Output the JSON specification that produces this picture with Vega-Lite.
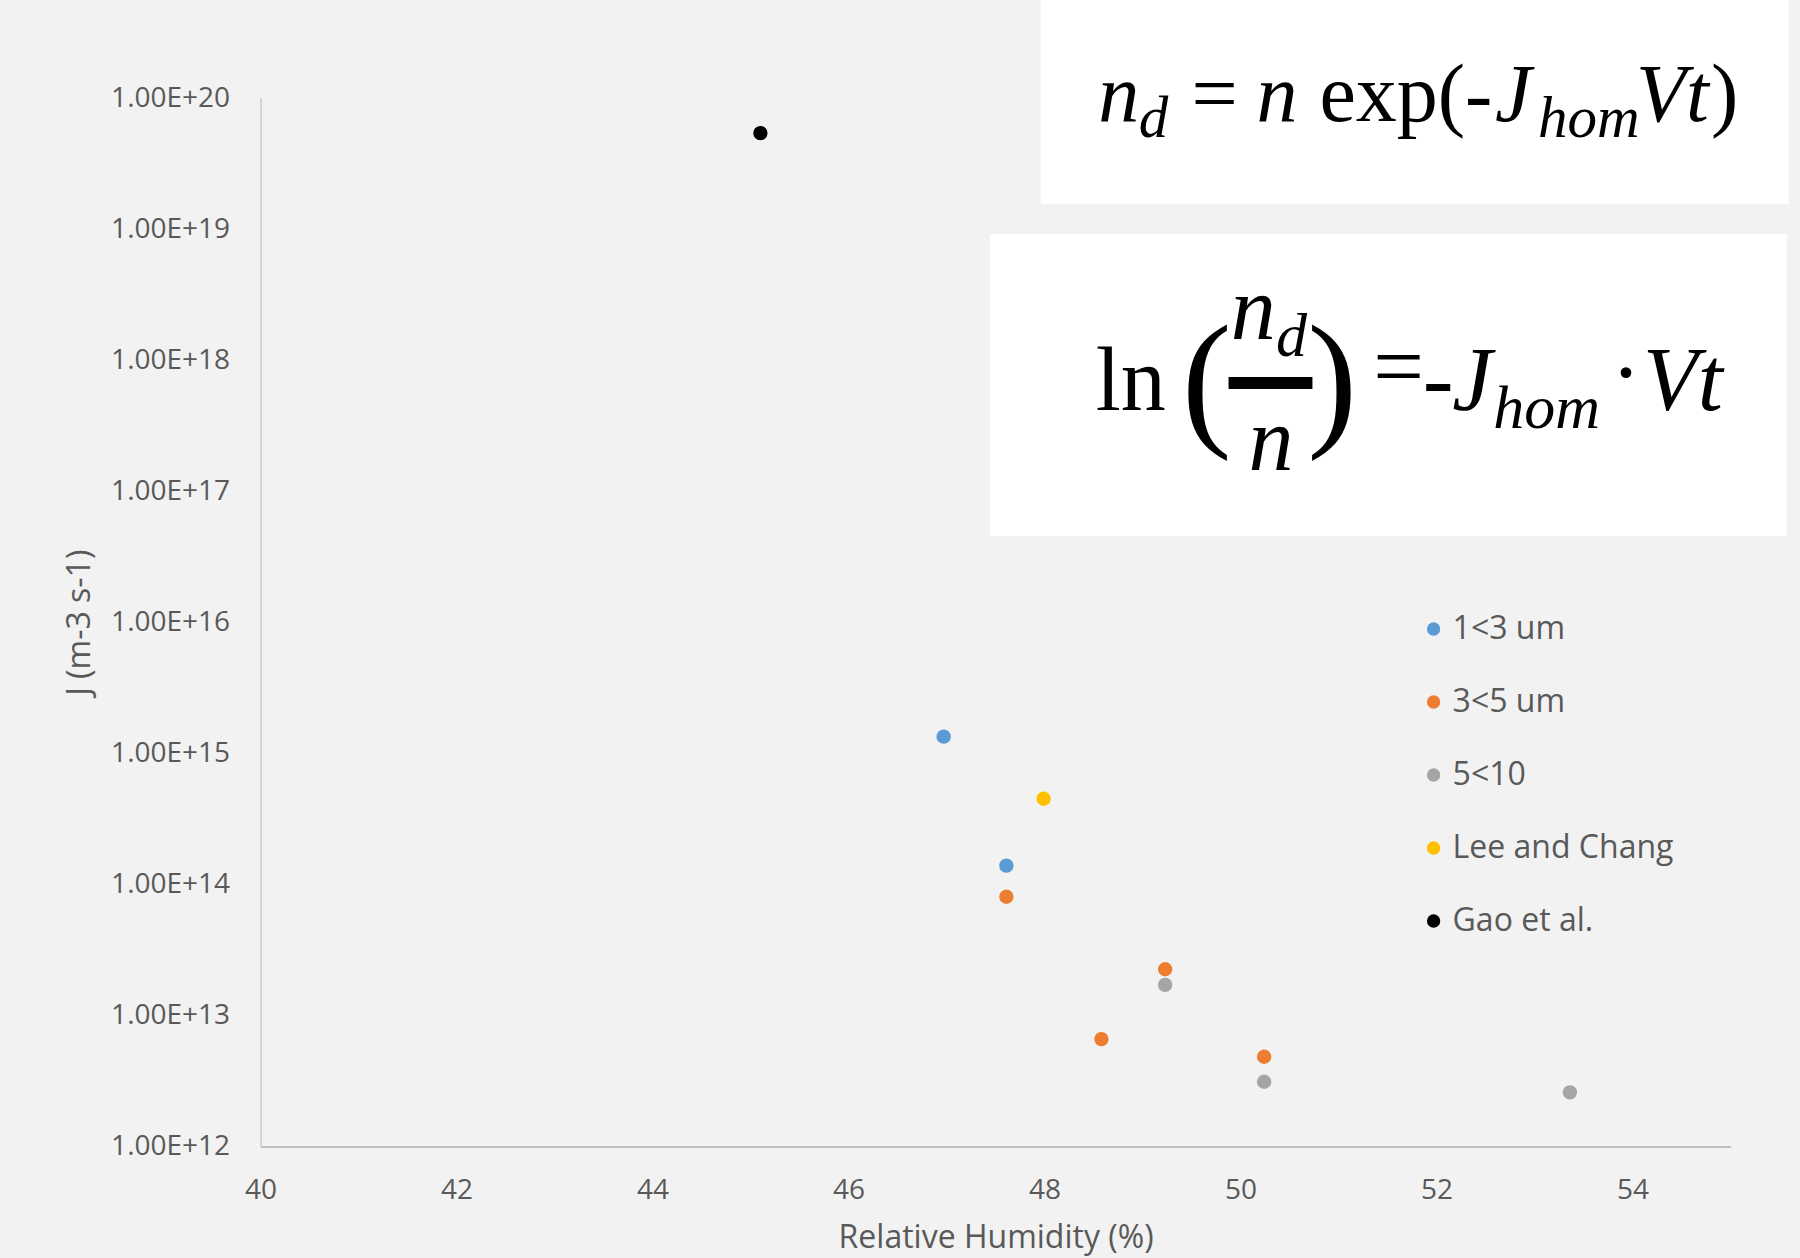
{
  "$schema": "https://vega.github.io/schema/vega-lite/v6.json",
  "width": 1470,
  "height": 1048.5,
  "autosize": {"type": "none"},
  "padding": {"left": 260.6, "top": 98, "right": 69.4, "bottom": 111.5},
  "background": "#f2f2f2",
  "config": {
    "view": {"stroke": null},
    "font": "Open Sans",
    "axis": {
      "grid": false,
      "ticks": false,
      "labelColor": "#595959",
      "titleColor": "#595959",
      "labelFont": "Open Sans",
      "titleFont": "Open Sans",
      "titleFontWeight": "normal",
      "domainColor": "#c0c0c0"
    },
    "legend": {
      "orient": "none",
      "legendX": 1157,
      "legendY": 515,
      "padding": 0,
      "labelFont": "Open Sans",
      "labelFontSize": 32,
      "labelColor": "#595959",
      "labelLimit": 0,
      "symbolSize": 140,
      "symbolType": "circle",
      "rowPadding": 41,
      "labelOffset": 3
    }
  },
  "datasets": {
    "points": [
      {"rh": 45.1, "J": 5.4e19, "series": "Gao et al."},
      {"rh": 46.97, "J": 1.34e15, "series": "1<3 um"},
      {"rh": 47.61, "J": 1.39e14, "series": "1<3 um"},
      {"rh": 47.99, "J": 4.5e14, "series": "Lee and Chang"},
      {"rh": 47.61, "J": 8.05e13, "series": "3<5 um"},
      {"rh": 49.23, "J": 2.25e13, "series": "3<5 um"},
      {"rh": 48.58, "J": 6.6e12, "series": "3<5 um"},
      {"rh": 50.24, "J": 4.84e12, "series": "3<5 um"},
      {"rh": 49.23, "J": 1.71e13, "series": "5<10"},
      {"rh": 50.24, "J": 3.12e12, "series": "5<10"},
      {"rh": 53.36, "J": 2.59e12, "series": "5<10"}
    ],
    "boxes": [
      {"rh": 47.961, "rh2": 55.593, "J": 5.6e20, "J2": 1.553e19},
      {"rh": 47.441, "rh2": 55.572, "J": 9.17e18, "J2": 4.55e16}
    ],
    "bars": [
      {"rh": 49.877, "rh2": 50.733, "J": 7.435e17, "J2": 6.023e17},
      {"rh": 51.894, "rh2": 52.139, "J": 6.575e17, "J2": 5.814e17}
    ],
    "f1italic": [
      {"rh": 48.547, "J": 6.68e19, "t": "n"},
      {"rh": 50.162, "J": 6.68e19, "t": "n"},
      {"rh": 52.597, "J": 6.68e19, "t": "J"},
      {"rh": 54.034, "J": 6.68e19, "t": "Vt"}
    ],
    "f1upright": [
      {"rh": 49.5, "J": 6.68e19, "t": "="},
      {"rh": 50.804, "J": 6.68e19, "t": "exp(-"},
      {"rh": 54.8, "J": 6.68e19, "t": ")"}
    ],
    "f1sub": [
      {"rh": 48.96, "J": 5.04e19, "t": "d"},
      {"rh": 53.035, "J": 5.04e19, "t": "hom"}
    ],
    "f2upright": [
      {"rh": 48.522, "J": 4.164e17, "t": "ln"},
      {"rh": 51.354, "J": 5.232e17, "t": "="},
      {"rh": 53.779, "J": 4.71e17, "t": "·"}
    ],
    "f2italic": [
      {"rh": 49.9, "J": 1.45e18, "t": "n"},
      {"rh": 50.081, "J": 1.451e17, "t": "n"},
      {"rh": 52.159, "J": 4.164e17, "t": "J"},
      {"rh": 54.105, "J": 4.164e17, "t": "Vt"}
    ],
    "f2sub": [
      {"rh": 50.36, "J": 1.0755e18, "t": "d"},
      {"rh": 52.577, "J": 3.035e17, "t": "hom"}
    ],
    "f2paren": [
      {"rh": 49.4, "J": 3.0e17, "t": "("},
      {"rh": 50.68, "J": 3.0e17, "t": ")"}
    ]
  },
  "encoding": {
    "x": {
      "field": "rh",
      "type": "quantitative",
      "title": "Relative Humidity (%)",
      "scale": {"domain": [40, 55], "nice": false, "zero": false},
      "axis": {
        "values": [40, 42, 44, 46, 48, 50, 52, 54],
        "labelFlush": false,
        "labelFontSize": 28,
        "labelPadding": 30,
        "titleFontSize": 32,
        "titlePadding": 18,
        "domainWidth": 2
      }
    },
    "y": {
      "field": "J",
      "type": "quantitative",
      "title": "J (m-3 s-1)",
      "scale": {"type": "log", "domain": [1e12, 1e20], "nice": false},
      "axis": {
        "values": [1e12, 1e13, 1e14, 1e15, 1e16, 1e17, 1e18, 1e19, 1e20],
        "labelExpr": "'1.00E+' + round(log(datum.value) / LN10)",
        "labelFlush": false,
        "labelFontSize": 28,
        "labelPadding": 31,
        "titleFontSize": 32,
        "titlePadding": 14,
        "domainWidth": 1.2
      }
    }
  },
  "layer": [
    {
      "data": {"name": "boxes"},
      "mark": {"type": "rect", "color": "#ffffff", "clip": false},
      "encoding": {"x2": {"field": "rh2"}, "y2": {"field": "J2"}}
    },
    {
      "data": {"name": "bars"},
      "mark": {"type": "rect", "color": "#000000", "clip": false},
      "encoding": {"x2": {"field": "rh2"}, "y2": {"field": "J2"}}
    },
    {
      "data": {"name": "f1italic"},
      "mark": {"type": "text", "font": "Liberation Serif", "fontStyle": "italic", "fontSize": 82, "align": "left", "baseline": "alphabetic", "color": "#000000", "clip": false},
      "encoding": {"text": {"field": "t"}}
    },
    {
      "data": {"name": "f1upright"},
      "mark": {"type": "text", "font": "Liberation Serif", "fontSize": 82, "align": "left", "baseline": "alphabetic", "color": "#000000", "clip": false},
      "encoding": {"text": {"field": "t"}}
    },
    {
      "data": {"name": "f1sub"},
      "mark": {"type": "text", "font": "Liberation Serif", "fontStyle": "italic", "fontSize": 59, "align": "left", "baseline": "alphabetic", "color": "#000000", "clip": false},
      "encoding": {"text": {"field": "t"}}
    },
    {
      "data": {"name": "f2upright"},
      "mark": {"type": "text", "font": "Liberation Serif", "fontSize": 90, "align": "left", "baseline": "alphabetic", "color": "#000000", "clip": false},
      "encoding": {"text": {"field": "t"}}
    },
    {
      "data": {"name": "f2italic"},
      "mark": {"type": "text", "font": "Liberation Serif", "fontStyle": "italic", "fontSize": 90, "align": "left", "baseline": "alphabetic", "color": "#000000", "clip": false},
      "encoding": {"text": {"field": "t"}}
    },
    {
      "data": {"name": "f2sub"},
      "mark": {"type": "text", "font": "Liberation Serif", "fontStyle": "italic", "fontSize": 62, "align": "left", "baseline": "alphabetic", "color": "#000000", "clip": false},
      "encoding": {"text": {"field": "t"}}
    },
    {
      "data": {"name": "f2paren"},
      "mark": {"type": "text", "font": "Liberation Serif", "fontSize": 150, "align": "left", "baseline": "alphabetic", "color": "#000000", "clip": false},
      "encoding": {"text": {"field": "t"}}
    },
    {
      "data": {"name": "points"},
      "mark": {"type": "point", "filled": true, "size": 165, "opacity": 1, "strokeWidth": 1.5},
      "encoding": {
        "fill": {
          "field": "series",
          "type": "nominal",
          "scale": {
            "domain": ["1<3 um", "3<5 um", "5<10", "Lee and Chang", "Gao et al."],
            "range": ["#5b9bd5", "#ed7d31", "#a5a5a5", "#ffc000", "#000000"]
          },
          "legend": {"title": null}
        },
        "stroke": {
          "field": "series",
          "type": "nominal",
          "scale": {
            "domain": ["1<3 um", "3<5 um", "5<10", "Lee and Chang", "Gao et al."],
            "range": ["#5b9bd5", "#ed7d31", "#a5a5a5", "#ffc000", "#000000"]
          },
          "legend": {"title": null}
        }
      }
    }
  ]
}
